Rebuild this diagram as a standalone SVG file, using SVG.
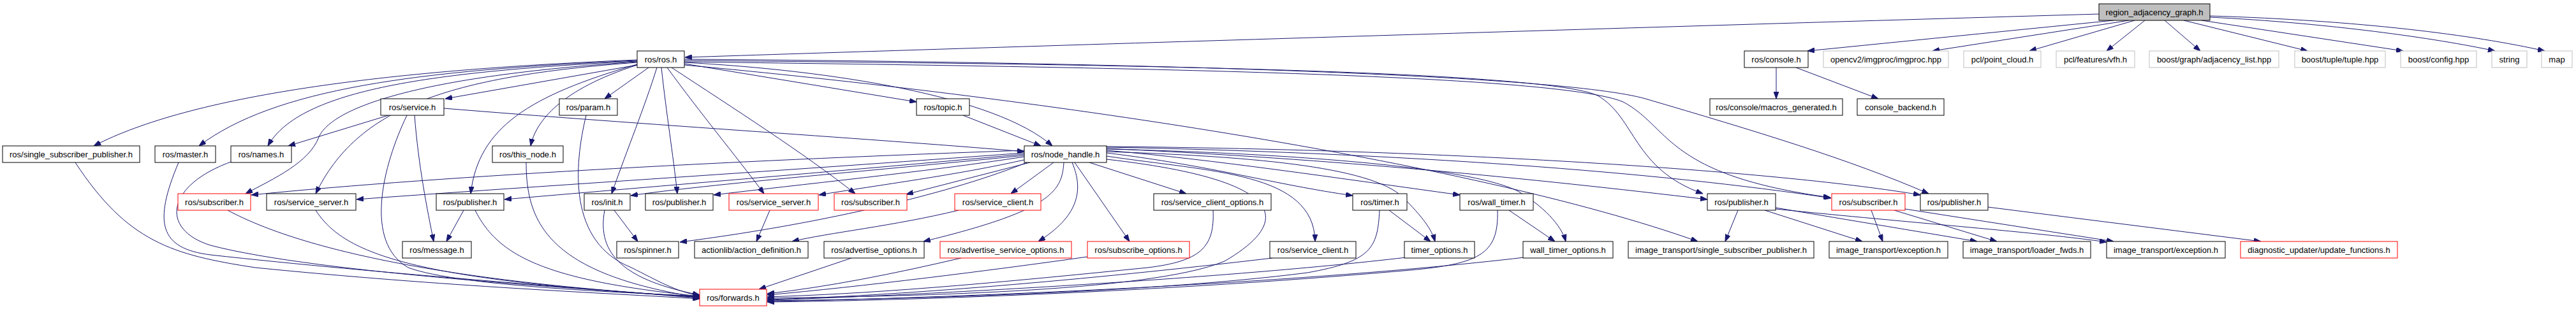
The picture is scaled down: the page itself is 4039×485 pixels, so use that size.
<svg xmlns="http://www.w3.org/2000/svg" width="4039" height="485" viewBox="0 0 4039 485">
<style>
.n rect{fill:#ffffff;stroke:#000000;stroke-width:1}
.n.r rect{stroke:#ff0000}
.n.g rect{stroke:#bfbfbf}
.n.root rect{fill:#bfbfbf}
.n text{font-family:"Liberation Sans",Arial,sans-serif;font-size:13px;text-anchor:middle;fill:#000000}
#edges path{fill:none;stroke:#191970;stroke-width:1;marker-end:url(#arr)}
</style>
<defs>
<marker id="arr" markerWidth="11" markerHeight="8" refX="11" refY="4" orient="auto" markerUnits="userSpaceOnUse">
<path d="M0,0 L11,4 L0,8 z" fill="#191970" stroke="#191970" stroke-width="1"/>
</marker>
</defs>
<rect width="4039" height="485" fill="#ffffff"/>
<g id="edges">
<!-- root -->
<path d="M3291,22 C2600,42 1500,76 1074,90"/>
<path d="M3314,32 L2834,80"/>
<path d="M3338,32 L3030,80"/>
<path d="M3347,32 L3182,80"/>
<path d="M3363,32 L3303,80"/>
<path d="M3394,32 L3450,80"/>
<path d="M3424,32 L3618,80"/>
<path d="M3452,32 L3768,80"/>
<path d="M3465,27 C3650,36 3820,60 3912,80"/>
<path d="M3465,25 C3700,32 3880,55 3990,80"/>
<!-- ros.h -->
<path d="M999,102 L698,155"/>
<path d="M999,94 C600,110 300,150 147,229"/>
<path d="M999,95 C650,110 430,140 312,229"/>
<path d="M999,96 C680,112 470,140 420,229"/>
<path d="M999,97 C650,120 520,170 500,215 C485,255 430,280 385,304"/>
<path d="M999,98 C700,120 560,170 495,304"/>
<path d="M999,102 C880,140 840,190 832,229"/>
<path d="M1017,106 L948,155"/>
<path d="M999,101 C830,150 750,200 738,304"/>
<path d="M1030,106 C1010,170 985,230 959,304"/>
<path d="M1037,106 C1045,180 1055,240 1062,304"/>
<path d="M1046,106 C1100,180 1150,240 1198,304"/>
<path d="M1053,106 C1150,170 1260,240 1341,304"/>
<path d="M1073,100 L1437,160"/>
<path d="M1073,98 C1300,110 1560,150 1650,229"/>
<path d="M1073,102 C1600,150 2300,250 2662,379"/>
<path d="M1073,95 C1700,100 2420,110 2505,150 C2565,185 2560,265 2670,304"/>
<path d="M1073,97 C1700,105 2440,115 2545,160 C2620,200 2610,275 2870,310"/>
<path d="M1073,93 C1800,98 2450,118 2580,155 C2750,205 2900,250 3024,304"/>
<!-- service.h -->
<path d="M609,181 L452,229"/>
<path d="M650,181 C656,260 670,330 680,379"/>
<path d="M638,181 C600,260 570,380 640,420 C720,450 1000,460 1097,465"/>
<path d="M696,170 C1000,195 1400,220 1606,238"/>
<!-- topic, param, this_node -->
<path d="M1510,181 L1632,229"/>
<path d="M919,181 C900,260 890,380 990,420 C1030,440 1060,458 1097,464"/>
<path d="M825,255 C825,350 860,430 1097,467"/>
<!-- console -->
<path d="M2785,106 L2785,155"/>
<path d="M2816,106 L2945,155"/>
<!-- row 3 to forwards -->
<path d="M118,255 C200,380 270,400 400,420 C700,450 950,460 1097,469"/>
<path d="M280,255 C240,350 250,390 330,400 C600,430 950,455 1097,468"/>
<path d="M365,253 C260,290 250,360 330,385 C500,430 950,455 1097,467"/>
<!-- row 4 left -->
<path d="M357,330 C450,380 650,440 1097,466"/>
<path d="M495,330 C540,400 650,440 1097,466"/>
<path d="M727,330 L700,379"/>
<path d="M745,330 C780,400 850,440 1097,465"/>
<path d="M963,330 L1000,379"/>
<path d="M948,330 C935,400 980,440 1097,463"/>
<path d="M1207,330 L1186,379"/>
<path d="M1503,330 C1400,355 1300,365 1242,379"/>
<!-- node_handle -->
<path d="M1610,255 C1500,300 1300,350 1066,380"/>
<path d="M1606,236 C1200,250 700,275 394,306"/>
<path d="M1606,240 C1200,270 800,295 559,313"/>
<path d="M1606,242 C1300,270 1000,295 791,313"/>
<path d="M1606,244 C1400,265 1100,290 989,307"/>
<path d="M1606,246 C1450,270 1250,290 1119,306"/>
<path d="M1610,250 C1500,275 1380,290 1284,306"/>
<path d="M1615,255 L1421,305"/>
<path d="M1652,255 L1585,304"/>
<path d="M1668,255 C1665,300 1650,330 1448,379"/>
<path d="M1681,255 C1700,300 1690,340 1628,379"/>
<path d="M1685,255 L1771,379"/>
<path d="M1708,255 L1860,304"/>
<path d="M1735,245 C1900,270 2060,270 2062,379"/>
<path d="M1735,250 C2000,280 2040,340 1920,410 C1800,460 1400,465 1203,468"/>
<path d="M1735,240 C1900,260 2000,290 2121,307"/>
<path d="M1735,238 C1950,245 2150,260 2200,310 C2230,340 2245,360 2250,379"/>
<path d="M1735,236 C1900,250 2100,280 2289,306"/>
<path d="M1735,234 C2000,240 2300,260 2380,300 C2430,330 2450,360 2455,379"/>
<path d="M1735,233 C2100,250 2400,280 2677,313"/>
<path d="M1735,231 C2200,240 2600,270 2871,311"/>
<path d="M1735,230 C2300,235 2800,270 3011,306"/>
<!-- row 4/5 right to forwards -->
<path d="M1335,405 L1190,454"/>
<path d="M1902,330 C1905,390 1880,410 1800,420 C1600,440 1400,460 1203,466"/>
<path d="M1507,405 C1400,430 1300,450 1203,461"/>
<path d="M1705,403 C1550,425 1350,450 1203,463"/>
<path d="M1995,405 C1700,440 1400,465 1203,470"/>
<path d="M2163,330 C2160,390 2150,410 2050,428 C1800,460 1400,470 1203,472"/>
<path d="M2178,330 L2243,379"/>
<path d="M2348,330 C2350,400 2320,415 2200,425 C1800,460 1400,472 1203,474"/>
<path d="M2366,330 L2438,379"/>
<path d="M2205,404 C1900,440 1400,465 1203,471"/>
<path d="M2390,404 C2000,450 1400,470 1203,473"/>
<!-- image_transport -->
<path d="M2725,330 L2705,379"/>
<path d="M2767,330 L2920,379"/>
<path d="M2784,326 L3100,379"/>
<path d="M2784,328 C3000,350 3200,365 3303,380"/>
<path d="M2934,330 L2952,379"/>
<path d="M2970,330 L3131,379"/>
<path d="M2987,328 L3314,379"/>
<path d="M3117,325 L3545,379"/>
</g>
<g id="n_root" class="n root"><rect x="3291" y="6" width="174" height="26"/><text x="3378" y="23.5">region_adjacency_graph.h</text></g>
<g id="n_ros" class="n"><rect x="999" y="80" width="74" height="26"/><text x="1036" y="97.5">ros/ros.h</text></g>
<g id="n_console" class="n"><rect x="2735" y="80" width="100" height="26"/><text x="2785" y="97.5">ros/console.h</text></g>
<g id="n_opencv" class="n g"><rect x="2859" y="80" width="196" height="26"/><text x="2957" y="97.5">opencv2/imgproc/imgproc.hpp</text></g>
<g id="n_pcl" class="n g"><rect x="3079" y="80" width="121" height="26"/><text x="3139.5" y="97.5">pcl/point_cloud.h</text></g>
<g id="n_vfh" class="n g"><rect x="3224" y="80" width="123" height="26"/><text x="3285.5" y="97.5">pcl/features/vfh.h</text></g>
<g id="n_adj" class="n g"><rect x="3370" y="80" width="203" height="26"/><text x="3471.5" y="97.5">boost/graph/adjacency_list.hpp</text></g>
<g id="n_tuple" class="n g"><rect x="3598" y="80" width="142" height="26"/><text x="3669" y="97.5">boost/tuple/tuple.hpp</text></g>
<g id="n_config" class="n g"><rect x="3764" y="80" width="119" height="26"/><text x="3823.5" y="97.5">boost/config.hpp</text></g>
<g id="n_string" class="n g"><rect x="3907" y="80" width="55" height="26"/><text x="3934.5" y="97.5">string</text></g>
<g id="n_map" class="n g"><rect x="3985" y="80" width="48" height="26"/><text x="4009" y="97.5">map</text></g>
<g id="n_service" class="n"><rect x="597" y="155" width="99" height="26"/><text x="646.5" y="172.5">ros/service.h</text></g>
<g id="n_param" class="n"><rect x="877" y="155" width="91" height="26"/><text x="922.5" y="172.5">ros/param.h</text></g>
<g id="n_topic" class="n"><rect x="1437" y="155" width="83" height="26"/><text x="1478.5" y="172.5">ros/topic.h</text></g>
<g id="n_macros" class="n"><rect x="2681" y="155" width="208" height="26"/><text x="2785" y="172.5">ros/console/macros_generated.h</text></g>
<g id="n_backend" class="n"><rect x="2912" y="155" width="136" height="26"/><text x="2980" y="172.5">console_backend.h</text></g>
<g id="n_ssp" class="n"><rect x="4" y="229" width="215" height="26"/><text x="111.5" y="246.5">ros/single_subscriber_publisher.h</text></g>
<g id="n_master" class="n"><rect x="243" y="229" width="95" height="26"/><text x="290.5" y="246.5">ros/master.h</text></g>
<g id="n_names" class="n"><rect x="362" y="229" width="95" height="26"/><text x="409.5" y="246.5">ros/names.h</text></g>
<g id="n_thisnode" class="n"><rect x="772" y="229" width="111" height="26"/><text x="827.5" y="246.5">ros/this_node.h</text></g>
<g id="n_nh" class="n"><rect x="1606" y="229" width="129" height="26"/><text x="1670.5" y="246.5">ros/node_handle.h</text></g>
<g id="n_sub1" class="n r"><rect x="279" y="304" width="114" height="26"/><text x="336" y="321.5">ros/subscriber.h</text></g>
<g id="n_ss1" class="n"><rect x="418" y="304" width="140" height="26"/><text x="488" y="321.5">ros/service_server.h</text></g>
<g id="n_pub1" class="n"><rect x="684" y="304" width="106" height="26"/><text x="737" y="321.5">ros/publisher.h</text></g>
<g id="n_init" class="n"><rect x="916" y="304" width="72" height="26"/><text x="952" y="321.5">ros/init.h</text></g>
<g id="n_pub2" class="n"><rect x="1012" y="304" width="106" height="26"/><text x="1065" y="321.5">ros/publisher.h</text></g>
<g id="n_ss2" class="n r"><rect x="1143" y="304" width="140" height="26"/><text x="1213" y="321.5">ros/service_server.h</text></g>
<g id="n_sub2" class="n r"><rect x="1308" y="304" width="114" height="26"/><text x="1365" y="321.5">ros/subscriber.h</text></g>
<g id="n_sc1" class="n r"><rect x="1497" y="304" width="135" height="26"/><text x="1564.5" y="321.5">ros/service_client.h</text></g>
<g id="n_sco" class="n"><rect x="1809" y="304" width="184" height="26"/><text x="1901" y="321.5">ros/service_client_options.h</text></g>
<g id="n_timer" class="n"><rect x="2121" y="304" width="85" height="26"/><text x="2163.5" y="321.5">ros/timer.h</text></g>
<g id="n_wtimer" class="n"><rect x="2289" y="304" width="115" height="26"/><text x="2346.5" y="321.5">ros/wall_timer.h</text></g>
<g id="n_pub3" class="n"><rect x="2677" y="304" width="107" height="26"/><text x="2730.5" y="321.5">ros/publisher.h</text></g>
<g id="n_sub3" class="n r"><rect x="2872" y="304" width="115" height="26"/><text x="2929.5" y="321.5">ros/subscriber.h</text></g>
<g id="n_pub4" class="n"><rect x="3011" y="304" width="106" height="26"/><text x="3064" y="321.5">ros/publisher.h</text></g>
<g id="n_msg" class="n"><rect x="631" y="379" width="108" height="26"/><text x="685" y="396.5">ros/message.h</text></g>
<g id="n_spin" class="n"><rect x="967" y="379" width="97" height="26"/><text x="1015.5" y="396.5">ros/spinner.h</text></g>
<g id="n_action" class="n"><rect x="1089" y="379" width="178" height="26"/><text x="1178" y="396.5">actionlib/action_definition.h</text></g>
<g id="n_ao" class="n"><rect x="1292" y="379" width="157" height="26"/><text x="1370.5" y="396.5">ros/advertise_options.h</text></g>
<g id="n_aso" class="n r"><rect x="1474" y="379" width="206" height="26"/><text x="1577" y="396.5">ros/advertise_service_options.h</text></g>
<g id="n_so" class="n r"><rect x="1705" y="379" width="160" height="26"/><text x="1785" y="396.5">ros/subscribe_options.h</text></g>
<g id="n_sc2" class="n"><rect x="1991" y="379" width="135" height="26"/><text x="2058.5" y="396.5">ros/service_client.h</text></g>
<g id="n_to" class="n"><rect x="2202" y="379" width="110" height="26"/><text x="2257" y="396.5">timer_options.h</text></g>
<g id="n_wto" class="n"><rect x="2388" y="379" width="141" height="26"/><text x="2458.5" y="396.5">wall_timer_options.h</text></g>
<g id="n_itssp" class="n"><rect x="2553" y="379" width="291" height="26"/><text x="2698.5" y="396.5">image_transport/single_subscriber_publisher.h</text></g>
<g id="n_ite1" class="n"><rect x="2868" y="379" width="186" height="26"/><text x="2961" y="396.5">image_transport/exception.h</text></g>
<g id="n_itlf" class="n"><rect x="3078" y="379" width="200" height="26"/><text x="3178" y="396.5">image_transport/loader_fwds.h</text></g>
<g id="n_ite2" class="n"><rect x="3303" y="379" width="186" height="26"/><text x="3396" y="396.5">image_transport/exception.h</text></g>
<g id="n_diag" class="n r"><rect x="3513" y="379" width="246" height="26"/><text x="3636" y="396.5">diagnostic_updater/update_functions.h</text></g>
<g id="n_fwd" class="n r"><rect x="1097" y="454" width="105" height="26"/><text x="1149.5" y="471.5">ros/forwards.h</text></g>
</svg>
